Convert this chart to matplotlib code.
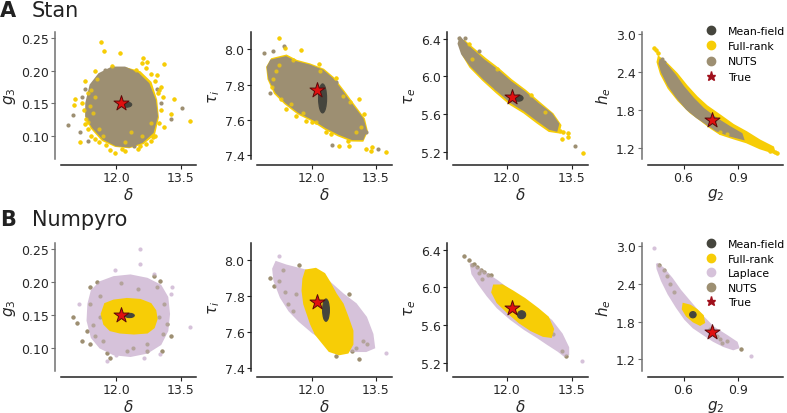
import matplotlib
matplotlib.use("Agg")
import matplotlib.pyplot as plt
from matplotlib.patches import Polygon, Ellipse
from matplotlib.lines import Line2D

# ---------------- colours ----------------
C_MF = "#45453d"
C_FR = "#f7cd06"
C_LA = "#d6c2da"
C_NU = "#9d8f72"
C_TRUE = "#e01010"
C_TRUE_EDGE = "#5a0a0a"

# ---------------- true values ----------------
true_delta = 12.12
true_g3 = 0.150
true_tau_i = 7.77
true_tau_e = 5.78
true_g2 = 0.76
true_he = 1.635

# ================= A: Stan =================
# --- A1: delta vs g3 ---
A1_nuts_core = [(11.30, 0.150), (11.40, 0.178), (11.60, 0.195), (11.90, 0.205), (12.20, 0.205),
                (12.50, 0.196), (12.75, 0.180), (12.90, 0.155), (12.95, 0.130), (12.85, 0.105),
                (12.60, 0.090), (12.30, 0.083), (12.00, 0.085), (11.70, 0.095), (11.45, 0.113),
                (11.30, 0.130)]
A1_fr_core = [(11.32, 0.150), (11.42, 0.176), (11.62, 0.193), (11.90, 0.203), (12.22, 0.204),
              (12.55, 0.198), (12.80, 0.182), (12.93, 0.155), (12.97, 0.128), (12.88, 0.102),
              (12.62, 0.088), (12.30, 0.082), (11.98, 0.084), (11.68, 0.093), (11.42, 0.112),
              (11.30, 0.130)]
A1_fr_pts_x = [11.64, 11.72, 12.09, 12.63, 12.72, 13.11, 11.27, 11.04, 11.02, 13.34, 13.27, 13.11,
               13.73, 11.16, 11.98, 12.13, 12.56, 11.35, 12.95, 12.35, 11.50, 12.85, 13.05,
               11.25, 11.30, 11.35, 11.40, 11.50, 11.45, 11.33, 11.40, 11.55, 11.60, 11.75, 11.85, 11.20,
               12.70, 12.80, 12.60, 12.90, 13.00, 13.05, 13.00, 12.90, 12.80, 12.70, 12.50, 12.20, 13.10,
               11.60, 11.70, 12.60, 12.20, 11.50, 12.80, 11.90, 12.45, 11.38, 11.28, 12.98]
A1_fr_pts_y = [0.245, 0.231, 0.227, 0.220, 0.214, 0.210, 0.185, 0.156, 0.147, 0.157, 0.134, 0.113,
               0.122, 0.090, 0.073, 0.079, 0.084, 0.121, 0.193, 0.105, 0.200, 0.098, 0.175,
               0.140, 0.125, 0.110, 0.100, 0.095, 0.135, 0.165, 0.170, 0.188, 0.090, 0.085, 0.078, 0.150,
               0.205, 0.195, 0.212, 0.185, 0.170, 0.140, 0.120, 0.100, 0.092, 0.087, 0.080, 0.076, 0.160,
               0.110, 0.100, 0.100, 0.090, 0.160, 0.120, 0.208, 0.202, 0.145, 0.118, 0.165]
A1_nu_pts_x = [10.87, 10.98, 13.54, 13.27, 11.16, 11.35, 11.27, 11.74, 12.95, 12.41, 11.20, 13.05]
A1_nu_pts_y = [0.117, 0.132, 0.142, 0.125, 0.105, 0.092, 0.172, 0.201, 0.172, 0.084, 0.160, 0.150]
A1_mf = (12.24, 0.1478, 0.24, 0.008)  # centre x, centre y, width, height

# --- A2: delta vs tau_i ---
A2_nuts_core = [(11.04, 7.937), (11.39, 7.956), (11.625, 7.928), (11.94, 7.909), (12.25, 7.880),
                (12.48, 7.833), (12.72, 7.757), (12.95, 7.681), (13.19, 7.605), (13.27, 7.539),
                (13.19, 7.491), (12.95, 7.491), (12.64, 7.520), (12.33, 7.558), (12.02, 7.605),
                (11.70, 7.643), (11.39, 7.700), (11.16, 7.757), (11.00, 7.833), (10.96, 7.899)]
A2_fr_core = [(11.06, 7.945), (11.40, 7.965), (11.64, 7.935), (11.95, 7.915), (12.27, 7.885),
              (12.50, 7.838), (12.75, 7.760), (12.98, 7.684), (13.22, 7.606), (13.29, 7.535),
              (13.19, 7.482), (12.93, 7.483), (12.62, 7.512), (12.31, 7.550), (12.00, 7.598),
              (11.68, 7.636), (11.37, 7.694), (11.13, 7.752), (10.98, 7.832), (10.95, 7.900)]
A2_fr_pts_x = [11.23, 11.375, 11.23, 11.08, 11.06, 11.27, 11.39, 11.625, 11.86, 12.09, 12.33, 12.64,
               12.875, 13.11, 13.23, 13.27, 13.38, 13.73, 13.42, 11.74, 12.17, 12.56, 12.72, 13.03,
               11.15, 11.50, 11.80, 12.00, 12.45, 12.85, 13.15, 11.55, 12.20, 12.90]
A2_fr_pts_y = [8.066, 8.008, 7.909, 7.833, 7.786, 7.719, 7.662, 7.624, 7.596, 7.586, 7.529, 7.453,
               7.453, 7.719, 7.634, 7.435, 7.425, 7.416, 7.444, 7.994, 7.918, 7.837, 7.738, 7.529,
               7.880, 7.690, 7.640, 7.590, 7.520, 7.480, 7.560, 7.940, 7.880, 7.700]
A2_nu_pts_x = [10.88, 11.02, 11.08, 12.48, 13.56, 11.35, 12.56, 13.28]
A2_nu_pts_y = [7.981, 7.751, 7.990, 7.459, 7.435, 8.017, 7.814, 7.529]
A2_mf = (12.25, 7.722, 0.19, 0.165)

# --- A3: delta vs tau_e ---
A3_nuts_core = [(10.92, 6.407), (11.16, 6.294), (11.47, 6.169), (11.78, 6.063), (12.09, 5.939),
                (12.41, 5.832), (12.72, 5.708), (13.03, 5.601), (13.19, 5.495), (13.15, 5.424),
                (12.99, 5.442), (12.72, 5.530), (12.41, 5.637), (12.09, 5.726), (11.78, 5.850),
                (11.47, 5.974), (11.16, 6.116), (10.96, 6.240), (10.88, 6.347)]
A3_fr_core = [(11.00, 6.380), (11.20, 6.300), (11.50, 6.185), (11.80, 6.080), (12.10, 5.960),
              (12.42, 5.850), (12.75, 5.720), (13.06, 5.600), (13.24, 5.480), (13.20, 5.405),
              (12.98, 5.420), (12.70, 5.510), (12.40, 5.615), (12.08, 5.705), (11.76, 5.830),
              (11.45, 5.960), (11.15, 6.100), (10.98, 6.230)]
A3_fr_pts_x = [11.12, 11.20, 11.78, 13.23, 13.30, 13.41, 13.42, 13.28, 13.77, 12.875, 12.55]
A3_fr_pts_y = [6.347, 6.187, 6.080, 5.424, 5.413, 5.400, 5.353, 5.335, 5.186, 5.619, 5.800]
A3_nu_pts_x = [10.88, 11.02, 13.58, 11.74, 11.35]
A3_nu_pts_y = [6.407, 6.407, 5.264, 5.875, 6.269]
A3_mf = (12.27, 5.768, 0.21, 0.065)

# --- A4: g2 vs h_e ---
A4_nuts_core = [(0.471, 2.579), (0.508, 2.500), (0.554, 2.342), (0.600, 2.158), (0.655, 1.974),
                (0.710, 1.816), (0.784, 1.658), (0.858, 1.526), (0.922, 1.421), (0.931, 1.342),
                (0.858, 1.395), (0.784, 1.474), (0.729, 1.579), (0.674, 1.684), (0.618, 1.816),
                (0.563, 2.000), (0.517, 2.184), (0.480, 2.395), (0.467, 2.526)]
A4_fr_core = [(0.462, 2.632), (0.508, 2.526), (0.563, 2.368), (0.618, 2.174), (0.674, 2.000),
              (0.729, 1.858), (0.803, 1.711), (0.876, 1.563), (0.950, 1.447), (1.024, 1.316),
              (1.097, 1.211), (1.106, 1.121), (1.024, 1.195), (0.950, 1.289), (0.876, 1.353),
              (0.803, 1.421), (0.747, 1.526), (0.692, 1.647), (0.637, 1.763), (0.572, 1.947),
              (0.517, 2.142), (0.475, 2.368), (0.456, 2.553)]
A4_fr_pts_x = [0.434, 0.447, 0.458, 0.950, 0.987, 1.024, 1.042, 1.079, 1.106, 1.119, 0.803, 0.839]
A4_fr_pts_y = [2.774, 2.737, 2.700, 1.395, 1.316, 1.237, 1.211, 1.158, 1.132, 1.121, 1.447, 1.421]
A4_nu_pts_x = [0.478, 0.490]
A4_nu_pts_y = [2.600, 2.560]
A4_mf = (0.765, 1.63, 0.03, 0.08)

# ================= B: Numpyro =================
# --- B1: delta vs g3 ---
B1_la_core = [(11.43, 0.187), (11.625, 0.1998), (11.94, 0.2075), (12.33, 0.2101), (12.72, 0.205),
              (13.03, 0.1947), (13.19, 0.1768), (13.23, 0.1512), (13.19, 0.1256), (13.03, 0.1051),
              (12.72, 0.0923), (12.33, 0.0872), (11.94, 0.0898), (11.625, 0.100), (11.43, 0.1154),
              (11.33, 0.141), (11.35, 0.1666)]
B1_fr_core = [(11.74, 0.1666), (11.94, 0.1717), (12.25, 0.1742), (12.56, 0.1727), (12.80, 0.1666),
              (12.91, 0.1563), (12.94, 0.1435), (12.875, 0.1307), (12.72, 0.1230), (12.41, 0.1215),
              (12.09, 0.1230), (11.86, 0.1266), (11.72, 0.1358), (11.66, 0.1512)]
B1_la_pts_x = [12.56, 12.55, 11.98, 12.875, 13.30, 13.27, 13.73, 12.64, 11.78, 12.00, 11.12, 13.03]
B1_la_pts_y = [0.251, 0.228, 0.2188, 0.2126, 0.1922, 0.1819, 0.1317, 0.0836, 0.0795, 0.0887, 0.1666, 0.0898]
B1_nu_pts_x = [11.00, 11.09, 11.20, 11.39, 11.375, 11.55, 11.625, 12.875, 12.95, 13.11, 13.19, 13.27,
               13.07, 12.72, 12.25, 11.78, 11.39, 11.31, 11.51, 13.03, 11.625, 11.86, 12.99, 12.72,
               11.45, 12.10, 12.50, 13.10, 11.70, 12.40]
B1_nu_pts_y = [0.146, 0.138, 0.110, 0.105, 0.192, 0.200, 0.179, 0.210, 0.192, 0.1666, 0.1358, 0.118,
               0.0949, 0.0949, 0.0949, 0.0923, 0.1666, 0.1256, 0.118, 0.2024, 0.146, 0.0846, 0.146, 0.105,
               0.135, 0.198, 0.190, 0.120, 0.110, 0.100]
B1_mf = (12.31, 0.149, 0.22, 0.0065)

# --- B2: delta vs tau_i ---
B2_la_core = [(11.16, 7.991), (11.39, 7.972), (11.70, 7.953), (12.02, 7.934), (12.41, 7.878),
              (12.72, 7.812), (13.03, 7.756), (13.27, 7.681), (13.42, 7.587), (13.46, 7.512),
              (13.27, 7.493), (12.95, 7.493), (12.64, 7.512), (12.33, 7.550), (12.02, 7.597),
              (11.70, 7.662), (11.47, 7.719), (11.27, 7.794), (11.12, 7.887), (11.09, 7.953)]
B2_fr_core = [(11.86, 7.944), (12.09, 7.953), (12.29, 7.925), (12.41, 7.878), (12.56, 7.812),
              (12.72, 7.756), (12.84, 7.681), (12.95, 7.606), (12.95, 7.531), (12.84, 7.484),
              (12.64, 7.475), (12.41, 7.493), (12.25, 7.540), (12.09, 7.587), (11.98, 7.644),
              (11.90, 7.700), (11.82, 7.756), (11.78, 7.831), (11.80, 7.897)]
B2_la_pts_x = [11.22, 13.73, 13.03]
B2_la_pts_y = [8.023, 7.484, 7.550]
B2_nu_pts_x = [11.02, 11.12, 11.23, 11.375, 11.43, 11.55, 11.70, 11.90, 12.21, 12.875, 12.95, 13.11,
               13.03, 12.56, 13.19, 13.30, 12.09, 12.72, 11.31, 11.625]
B2_nu_pts_y = [7.902, 7.859, 7.887, 7.822, 7.756, 7.719, 7.972, 7.934, 7.872, 7.812, 7.493, 7.447,
               7.512, 7.465, 7.550, 7.531, 7.597, 7.531, 7.944, 7.812]
B2_mf = (12.33, 7.722, 0.16, 0.125)

# --- B3: delta vs tau_e ---
B3_la_core = [(11.16, 6.250), (11.47, 6.161), (11.78, 6.065), (12.09, 5.958), (12.41, 5.859),
              (12.72, 5.759), (13.03, 5.645), (13.27, 5.503), (13.42, 5.360), (13.42, 5.289),
              (13.34, 5.271), (13.19, 5.325), (12.95, 5.396), (12.72, 5.467), (12.41, 5.556),
              (12.09, 5.663), (11.78, 5.787), (11.55, 5.912), (11.35, 6.037), (11.20, 6.144)]
B3_fr_core = [(11.70, 6.019), (11.90, 6.019), (12.13, 5.958), (12.41, 5.877), (12.72, 5.770),
              (12.95, 5.681), (13.07, 5.556), (13.02, 5.474), (12.84, 5.485), (12.56, 5.545),
              (12.29, 5.627), (12.02, 5.734), (11.78, 5.841), (11.66, 5.948)]
B3_la_pts_x = [13.75]
B3_la_pts_y = [5.218]
B3_nu_pts_x = [11.00, 11.12, 11.23, 11.31, 11.39, 11.47, 11.55, 11.625, 11.43, 12.09, 12.72, 13.07,
               13.27, 13.38, 11.86, 11.20, 11.35]
B3_nu_pts_y = [6.332, 6.286, 6.250, 6.215, 6.179, 6.161, 6.136, 6.126, 6.090, 5.937, 5.617, 5.503,
               5.324, 5.271, 6.019, 6.240, 6.150]
B3_mf = (12.34, 5.709, 0.19, 0.085)

# --- B4: g2 vs h_e ---
B4_la_core = [(0.453, 2.722), (0.490, 2.642), (0.536, 2.482), (0.582, 2.295), (0.637, 2.108),
              (0.692, 1.921), (0.766, 1.707), (0.839, 1.574), (0.895, 1.467), (0.904, 1.387),
              (0.876, 1.360), (0.821, 1.413), (0.766, 1.494), (0.710, 1.600), (0.655, 1.707),
              (0.609, 1.841), (0.563, 2.028), (0.517, 2.241), (0.480, 2.455), (0.456, 2.642)]
B4_fr_core = [(0.600, 2.081), (0.637, 2.054), (0.674, 1.985), (0.707, 1.894), (0.714, 1.787),
              (0.692, 1.750), (0.655, 1.803), (0.618, 1.894), (0.596, 2.001)]
B4_la_pts_x = [0.434, 0.974]
B4_la_pts_y = [2.973, 1.253]
B4_nu_pts_x = [0.462, 0.490, 0.508, 0.526, 0.545, 0.747, 0.784, 0.803, 0.839, 0.917, 0.812]
B4_nu_pts_y = [2.696, 2.615, 2.535, 2.402, 2.268, 1.681, 1.574, 1.520, 1.494, 1.360, 1.467]
B4_mf = (0.652, 1.910, 0.036, 0.10)

# ---------------- axis settings ----------------
xlabels = [r"$\delta$", r"$\delta$", r"$\delta$", r"$g_2$"]
ylabels = [r"$g_3$", r"$\tau_i$", r"$\tau_e$", r"$h_e$"]
xticks = [[12.0, 13.5], [12.0, 13.5], [12.0, 13.5], [0.6, 0.9]]
yticks = [[0.10, 0.15, 0.20, 0.25], [7.4, 7.6, 7.8, 8.0], [5.2, 5.6, 6.0, 6.4], [1.2, 1.8, 2.4, 3.0]]
xfmt = ["{:.1f}", "{:.1f}", "{:.1f}", "{:.1f}"]
yfmt = ["{:.2f}", "{:.1f}", "{:.1f}", "{:.1f}"]
xlims = [(10.71, 13.86), (10.71, 13.88), (10.75, 13.88), (0.403, 1.152)]
ylims_A = [(0.0638, 0.260), (7.378, 8.099), (5.122, 6.471), (1.026, 3.026)]
ylims_B = [(0.0642, 0.2597), (7.381, 8.098), (5.111, 6.471), (1.013, 3.053)]
true_x = [true_delta, true_delta, true_delta, true_g2]
true_y = [true_g3, true_tau_i, true_tau_e, true_he]

W, H = 787, 414
fig = plt.figure(figsize=(W / 100, H / 100), dpi=100)
plt.rcParams['font.family'] = ['DejaVu Sans']

lefts = [61, 257, 453, 648]
axw = 135
rows = [(33, 160), (244, 372)]

S_PT = 9


def make_ax(col, row):
    top, bot = rows[row]
    ax = fig.add_axes([lefts[col] / W, 1 - bot / H, axw / W, (bot - top) / H])
    for s in ["top", "right"]:
        ax.spines[s].set_visible(False)
    ax.spines["left"].set_position(("outward", 4.5))
    ax.spines["bottom"].set_position(("outward", 4))
    lc = "#707070" if col in (0, 3) else "#222222"
    ax.spines["left"].set_color(lc)
    ax.spines["bottom"].set_color("#222222")
    ax.spines["left"].set_linewidth(1.1)
    ax.spines["bottom"].set_linewidth(1.1)
    ax.tick_params(axis="y", colors=lc, labelcolor="#262626", length=3, width=0.8, labelsize=9, pad=1.5)
    ax.tick_params(axis="x", colors="#222222", labelcolor="#262626", length=3, width=0.8, labelsize=9, pad=2)
    ax.set_xticks(xticks[col])
    ax.set_xticklabels([xfmt[col].format(v) for v in xticks[col]])
    ax.set_yticks(yticks[col])
    ax.set_yticklabels([yfmt[col].format(v) for v in yticks[col]])
    ax.set_xlim(*xlims[col])
    ax.set_ylim(*(ylims_A[col] if row == 0 else ylims_B[col]))
    ax.set_xlabel(xlabels[col], fontsize=11, color="#262626", labelpad=1)
    ax.set_ylabel(ylabels[col], fontsize=11, color="#262626", labelpad=2)
    return ax


def cloud(ax, core, px, py, color, z):
    ax.add_patch(Polygon(core, closed=True, facecolor=color, edgecolor=color, lw=1.5, zorder=z))
    ax.scatter(px, py, s=S_PT, color=color, linewidths=0, zorder=z + 0.1)


def mf(ax, spec):
    cx, cy, w, h = spec
    ax.add_patch(Ellipse((cx, cy), w, h, facecolor=C_MF, edgecolor=C_MF, lw=0.8, zorder=10))


def star(ax, col):
    ax.scatter([true_x[col]], [true_y[col]], marker="*", s=130, color=C_TRUE,
               edgecolors=C_TRUE_EDGE, linewidths=0.7, zorder=12)


def legend(ax, handles, top_px, spacing):
    ax.legend(handles=handles, loc="upper left", bbox_to_anchor=(706 / W, 1 - top_px / H),
              bbox_transform=fig.transFigure, frameon=False, fontsize=7.8,
              handletextpad=1.0, labelspacing=spacing, borderaxespad=0, borderpad=0,
              handlelength=1.0)


A_data = [
    (A1_fr_core, A1_fr_pts_x, A1_fr_pts_y, A1_nuts_core, A1_nu_pts_x, A1_nu_pts_y, A1_mf),
    (A2_fr_core, A2_fr_pts_x, A2_fr_pts_y, A2_nuts_core, A2_nu_pts_x, A2_nu_pts_y, A2_mf),
    (A3_fr_core, A3_fr_pts_x, A3_fr_pts_y, A3_nuts_core, A3_nu_pts_x, A3_nu_pts_y, A3_mf),
    (A4_fr_core, A4_fr_pts_x, A4_fr_pts_y, A4_nuts_core, A4_nu_pts_x, A4_nu_pts_y, A4_mf),
]
B_data = [
    (B1_la_core, B1_la_pts_x, B1_la_pts_y, B1_fr_core, B1_nu_pts_x, B1_nu_pts_y, B1_mf),
    (B2_la_core, B2_la_pts_x, B2_la_pts_y, B2_fr_core, B2_nu_pts_x, B2_nu_pts_y, B2_mf),
    (B3_la_core, B3_la_pts_x, B3_la_pts_y, B3_fr_core, B3_nu_pts_x, B3_nu_pts_y, B3_mf),
    (B4_la_core, B4_la_pts_x, B4_la_pts_y, B4_fr_core, B4_nu_pts_x, B4_nu_pts_y, B4_mf),
]

for col in range(4):
    ax = make_ax(col, 0)
    frc, fx, fy, nuc, nx, ny, m = A_data[col]
    ax.add_patch(Polygon(frc, closed=True, facecolor=C_FR, edgecolor=C_FR, lw=1.5, zorder=2))
    ax.scatter(fx, fy, s=S_PT, color=C_FR, linewidths=0, zorder=2.1)
    ax.add_patch(Polygon(nuc, closed=True, facecolor=C_NU, edgecolor=C_NU, lw=1.5, zorder=3))
    ax.scatter(nx, ny, s=S_PT, color=C_NU, linewidths=0, zorder=3.1)
    ax.scatter(fx, fy, s=S_PT, color=C_FR, linewidths=0, alpha=0.75, zorder=3.2)
    mf(ax, m)
    star(ax, col)
    if col == 3:
        handles = [
            Line2D([], [], ls="", marker="o", ms=6, color=C_MF, label="Mean-field"),
            Line2D([], [], ls="", marker="o", ms=6, color=C_FR, label="Full-rank"),
            Line2D([], [], ls="", marker="o", ms=6, color=C_NU, label="NUTS"),
            Line2D([], [], ls="", marker="*", ms=6.5, color="#a0101c", label="True"),
        ]
        legend(ax, handles, 27, 0.48)

for col in range(4):
    ax = make_ax(col, 1)
    lac, lx, ly, frc, nx, ny, m = B_data[col]
    ax.scatter(nx, ny, s=S_PT, color=C_NU, linewidths=0, zorder=1.5)
    cloud(ax, lac, lx, ly, C_LA, 2)
    ax.scatter(nx, ny, s=S_PT, color=C_NU, linewidths=0, alpha=0.6, zorder=2.5)
    ax.add_patch(Polygon(frc, closed=True, facecolor=C_FR, edgecolor=C_FR, lw=1.5, zorder=3))
    mf(ax, m)
    star(ax, col)
    if col == 3:
        handles = [
            Line2D([], [], ls="", marker="o", ms=6, color=C_MF, label="Mean-field"),
            Line2D([], [], ls="", marker="o", ms=6, color=C_FR, label="Full-rank"),
            Line2D([], [], ls="", marker="o", ms=6, color=C_LA, label="Laplace"),
            Line2D([], [], ls="", marker="o", ms=6, color=C_NU, label="NUTS"),
            Line2D([], [], ls="", marker="*", ms=6.5, color="#a0101c", label="True"),
        ]
        legend(ax, handles, 240, 0.42)

fig.text(0 / W, 1 - 17 / H, "A", fontsize=15, fontweight="bold", va="baseline", ha="left", color="#222222")
fig.text(32 / W, 1 - 17 / H, "Stan", fontsize=15, va="baseline", ha="left", color="#222222")
fig.text(0 / W, 1 - 226 / H, "B", fontsize=15, fontweight="bold", va="baseline", ha="left", color="#222222")
fig.text(32 / W, 1 - 226 / H, "Numpyro", fontsize=15, va="baseline", ha="left", color="#222222")

fig.savefig("out.png", dpi=100)
